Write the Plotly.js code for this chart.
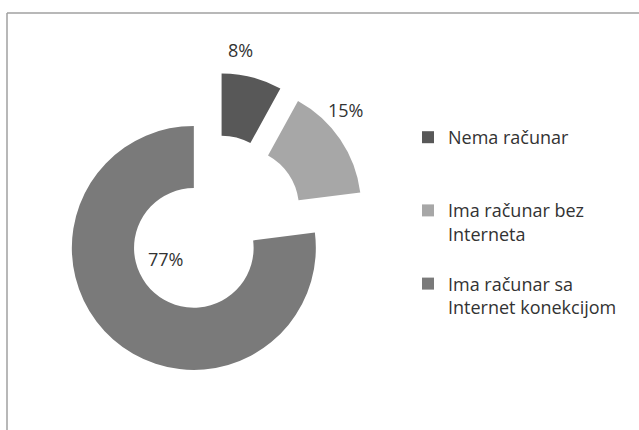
<!DOCTYPE html>
<html>
<head>
<meta charset="utf-8">
<script src="https://cdn.plot.ly/plotly-3.0.1.min.js"></script>
<style>
  html, body { margin: 0; padding: 0; background: #ffffff; }
  #chart { width: 639px; height: 430px; }
</style>
</head>
<body>
<div id="chart"></div>
<script>
// ---- data ----
const categories = ['Nema računar', 'Ima računar bez Interneta', 'Ima računar sa Internet konekcijom'];
const legendLabels = ['Nema računar<br> <br> ', 'Ima računar bez<br>Interneta<br> ', 'Ima računar sa<br>Internet konekcijom'];
const values = [8, 15, 77];
const sliceColors = ['#585858', '#a7a7a7', '#7a7a7a'];

const total = values.reduce((a, b) => a + b, 0);
const pctLabels = values.map(v => Math.round(v / total * 100) + '%');

const FONT = '"Open Sans", "Noto Sans", sans-serif';

// label anchor positions in pixels (layout only)
const labelPx = [[240, 50], [345, 110], [165, 259]];

const trace = {
  type: 'pie',
  labels: legendLabels,
  values: values,
  customdata: categories,
  marker: { colors: sliceColors, line: { width: 0 } },
  hole: 0.49,
  pull: [0.25, 0.25, 0.25],
  sort: false,
  direction: 'clockwise',
  rotation: 0,
  textinfo: 'none',
  domain: { x: [0.0962, 0.5736], y: [0.1221, 0.8314] },
  hoverinfo: 'label+percent'
};

const layout = {
  width: 639,
  height: 430,
  margin: { l: 0, r: 0, t: 0, b: 0 },
  paper_bgcolor: '#ffffff',
  font: { family: FONT, size: 18, color: '#333333' },
  showlegend: true,
  legend: {
    x: 408 / 639, y: 1 - 119 / 430,
    xanchor: 'left', yanchor: 'top',
    valign: 'top',
    bgcolor: 'rgba(0,0,0,0)',
    font: { family: FONT, size: 18, color: '#333333' }
  },
  annotations: pctLabels.map((t, i) => ({
    xref: 'paper', yref: 'paper',
    x: labelPx[i][0] / 639, y: 1 - labelPx[i][1] / 430,
    xanchor: 'center', yanchor: 'middle',
    text: t, showarrow: false,
    font: { family: FONT, size: 18, color: '#333333' }
  })),
  shapes: [
    { type: 'line', xref: 'paper', yref: 'paper', x0: 7 / 639, x1: 1, y0: 1 - 13 / 430, y1: 1 - 13 / 430,
      line: { color: '#a0a0a0', width: 1.5 } },
    { type: 'line', xref: 'paper', yref: 'paper', x0: 7 / 639, x1: 7 / 639, y0: 0, y1: 1 - 13 / 430,
      line: { color: '#a0a0a0', width: 1.5 } }
  ]
};

Plotly.newPlot('chart', [trace], layout, { displayModeBar: false, staticPlot: true });
</script>
</body>
</html>
